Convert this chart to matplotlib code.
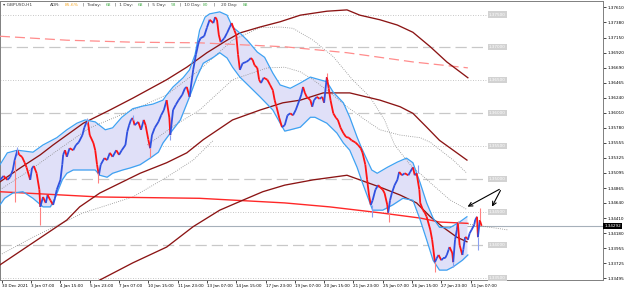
import matplotlib
matplotlib.use("Agg")
import matplotlib.pyplot as plt
from matplotlib.collections import LineCollection
import numpy as np

# GBPUSD H1, price path (bar index, close)
price_bars = [0, 4, 8, 11, 14, 16, 19, 21, 24, 27, 29, 33, 35, 37, 40, 43, 44, 47, 50, 52,
              55, 58, 60, 62, 66, 68, 69, 71, 73, 76, 80, 83, 86, 90, 92, 94, 96, 98, 102, 104,
              106, 108, 110, 114, 117, 120, 123, 127, 130, 133, 137, 139, 141, 143, 145, 147, 151, 154, 157, 159,
              162, 164, 166, 169, 173, 176, 179, 182, 185, 186, 189, 192, 195, 199, 202, 204, 207, 211, 214, 217,
              219, 223, 226, 229, 233, 235, 237, 239, 241, 245, 248, 251, 253, 256, 258, 260, 262, 265, 269, 272,
              274, 276, 278, 281, 283, 285, 288, 292, 295, 298, 300, 302, 305, 308, 311, 314, 317, 320, 323, 327,
              329, 331, 333, 335, 339, 341, 343, 346, 349, 352, 354, 356, 357, 359, 361, 364, 367, 369, 372, 375,
              378, 381, 384, 388, 391, 394, 396, 399, 401, 403, 405, 407, 410, 413, 415, 418, 420, 423, 424, 426,
              428, 431, 434, 436, 439, 442, 446, 448, 451, 453, 455, 458, 459, 462, 464, 466, 470, 472, 473, 475,
              477, 479, 482, 484, 486, 488, 490, 491, 494, 495, 497, 499, 500, 502, 505, 506, 508, 510, 511, 513,
              515, 518, 519, 521, 522, 524, 526]
price_close = [1.3499, 1.3505, 1.3499, 1.3503, 1.3514, 1.3529, 1.3544, 1.3537, 1.3534, 1.3525, 1.3518, 1.3499, 1.3517, 1.3520, 1.3509, 1.3484, 1.3458, 1.3473, 1.3464, 1.3476,
               1.3468, 1.3461, 1.3471, 1.3484, 1.3499, 1.3522, 1.3537, 1.3544, 1.3534, 1.3547, 1.3544, 1.3552, 1.3556, 1.3567, 1.3578, 1.3585, 1.3587, 1.3567, 1.3555, 1.3544,
               1.3522, 1.3506, 1.3522, 1.3532, 1.3529, 1.3540, 1.3534, 1.3544, 1.3537, 1.3544, 1.3552, 1.3572, 1.3582, 1.3590, 1.3593, 1.3582, 1.3587, 1.3575, 1.3590, 1.3582,
               1.3560, 1.3547, 1.3567, 1.3578, 1.3587, 1.3597, 1.3605, 1.3620, 1.3593, 1.3567, 1.3605, 1.3613, 1.3620, 1.3628, 1.3638, 1.3640, 1.3625, 1.3666, 1.3689, 1.3708,
               1.3714, 1.3717, 1.3730, 1.3742, 1.3737, 1.3746, 1.3742, 1.3719, 1.3708, 1.3714, 1.3722, 1.3731, 1.3737, 1.3726, 1.3719, 1.3689, 1.3666, 1.3676, 1.3678, 1.3681,
               1.3684, 1.3681, 1.3673, 1.3669, 1.3651, 1.3646, 1.3654, 1.3651, 1.3643, 1.3635, 1.3620, 1.3610, 1.3593, 1.3579, 1.3582, 1.3597, 1.3600, 1.3597, 1.3605, 1.3620,
               1.3628, 1.3640, 1.3631, 1.3625, 1.3620, 1.3610, 1.3620, 1.3625, 1.3622, 1.3625, 1.3616, 1.3643, 1.3655, 1.3638, 1.3620, 1.3600, 1.3593, 1.3590, 1.3578, 1.3570,
               1.3564, 1.3563, 1.3559, 1.3556, 1.3552, 1.3547, 1.3540, 1.3522, 1.3499, 1.3476, 1.3461, 1.3468, 1.3484, 1.3491, 1.3488, 1.3484, 1.3479, 1.3461, 1.3449, 1.3468,
               1.3479, 1.3491, 1.3499, 1.3511, 1.3506, 1.3509, 1.3506, 1.3511, 1.3518, 1.3506, 1.3509, 1.3484, 1.3464, 1.3453, 1.3449, 1.3443, 1.3423, 1.3408, 1.3397, 1.3374,
               1.3380, 1.3385, 1.3377, 1.3380, 1.3380, 1.3385, 1.3393, 1.3397, 1.3388, 1.3374, 1.3408, 1.3423, 1.3434, 1.3400, 1.3385, 1.3393, 1.3412, 1.3411, 1.3408, 1.3418,
               1.3423, 1.3431, 1.3438, 1.3443, 1.3412, 1.3438, 1.34292]

# long wicks (bar, low, high)
wick_bars = [16, 19, 44, 95, 107, 145, 164, 186, 357, 406, 425, 456, 475, 495, 500, 522, 524]
wick_low = [1.3465, 1.3537, 1.3431, 1.3585, 1.3494, 1.3590, 1.3534, 1.3560, 1.3655, 1.3443, 1.3435, 1.3509, 1.3359, 1.3367, 1.3434, 1.3393, 1.3438]
wick_high = [1.3529, 1.3549, 1.3458, 1.3593, 1.3510, 1.3597, 1.3547, 1.3567, 1.3661, 1.3461, 1.3449, 1.3522, 1.3374, 1.3374, 1.3436, 1.3412, 1.3456]

# Bollinger-style envelope
bb_up_bars = [0, 8, 19, 36, 47, 62, 73, 84, 93, 104, 115, 123, 133, 145, 156, 167, 178, 182, 189, 200,
              207, 213, 218, 224, 229, 240, 248, 254, 262, 270, 281, 289, 298, 306, 317, 328, 339, 349, 357, 364,
              375, 382, 390, 395, 401, 406, 412, 423, 434, 444, 451, 459, 466, 473, 480, 491, 502, 510]
bb_up = [1.3522, 1.3540, 1.3544, 1.3541, 1.3552, 1.3563, 1.3575, 1.3585, 1.3590, 1.3587, 1.3575, 1.3578, 1.3594, 1.3607, 1.3611, 1.3614, 1.3620, 1.3628, 1.3640, 1.3654,
         1.3666, 1.3689, 1.3726, 1.3746, 1.3751, 1.3754, 1.3749, 1.3731, 1.3722, 1.3711, 1.3693, 1.3685, 1.3661, 1.3643, 1.3638, 1.3646, 1.3655, 1.3651, 1.3648, 1.3632,
         1.3616, 1.3594, 1.3564, 1.3547, 1.3529, 1.3514, 1.3509, 1.3518, 1.3526, 1.3532, 1.3525, 1.3494, 1.3464, 1.3441, 1.3427, 1.3426, 1.3435, 1.3443]
bb_lo_bars = [0, 5, 14, 25, 36, 47, 55, 60, 68, 73, 80, 91, 104, 109, 117, 123, 134, 142, 153, 164,
              173, 178, 186, 197, 207, 215, 222, 233, 240, 248, 254, 262, 273, 284, 298, 306, 311, 317, 328, 339,
              344, 357, 368, 375, 382, 390, 396, 404, 407, 418, 429, 440, 451, 459, 466, 473, 480, 488, 495, 505, 511]
bb_lo = [1.3461, 1.3471, 1.3479, 1.3481, 1.3471, 1.3458, 1.3458, 1.3471, 1.3499, 1.3509, 1.3514, 1.3514, 1.3514, 1.3506, 1.3503, 1.3509, 1.3514, 1.3517, 1.3522, 1.3532,
         1.3541, 1.3555, 1.3570, 1.3590, 1.3625, 1.3655, 1.3676, 1.3685, 1.3692, 1.3684, 1.3670, 1.3655, 1.3640, 1.3625, 1.3605, 1.3585, 1.3573, 1.3575, 1.3579, 1.3594,
         1.3594, 1.3585, 1.3570, 1.3555, 1.3544, 1.3518, 1.3494, 1.3464, 1.3453, 1.3453, 1.3461, 1.3471, 1.3468, 1.3438, 1.3408, 1.3377, 1.3362, 1.3362, 1.3367, 1.3377, 1.3385]

# maroon moving averages
ma1_bars = [0, 22, 44, 58, 91, 120, 145, 182, 204, 226, 248, 262, 284, 306, 328, 357, 379, 393, 415, 434, 451, 470, 488, 511]
ma1 = [1.3496, 1.3517, 1.3537, 1.3552, 1.3585, 1.3605, 1.3623, 1.3651, 1.3670, 1.3692, 1.3711, 1.3722, 1.3731, 1.3739, 1.3749, 1.3755, 1.3757, 1.3749, 1.3742, 1.3734, 1.3723, 1.3701, 1.3678, 1.3654]
ma2_bars = [0, 44, 73, 87, 109, 131, 153, 182, 204, 222, 254, 284, 309, 328, 353, 382, 415, 437, 451, 466, 480, 495, 510]
ma2 = [1.3370, 1.3411, 1.3438, 1.3458, 1.3479, 1.3494, 1.3509, 1.3525, 1.3540, 1.3560, 1.3590, 1.3605, 1.3616, 1.3620, 1.3631, 1.3631, 1.3620, 1.3610, 1.3600, 1.3579, 1.3559, 1.3544, 1.3529]
ma3_bars = [98, 145, 182, 211, 240, 265, 287, 311, 342, 379, 385, 415, 437, 455, 470, 484, 499, 510]
ma3 = [1.3339, 1.3373, 1.3397, 1.3428, 1.3453, 1.3468, 1.3481, 1.3491, 1.3499, 1.3506, 1.3503, 1.3488, 1.3476, 1.3464, 1.3443, 1.3427, 1.3412, 1.3405]

# red moving averages
red_bars = [0, 109, 218, 311, 360, 415, 459, 480, 511]
red_ma = [1.3481, 1.3473, 1.3471, 1.3464, 1.3458, 1.3449, 1.3441, 1.3435, 1.3433]
red_proj_bars = [511, 555]
red_proj = [1.3432, 1.3423]
pink_bars = [0, 73, 145, 218, 311, 379, 451, 511]
pink_ma = [1.3717, 1.3711, 1.3708, 1.3707, 1.3701, 1.3692, 1.3678, 1.3669]

# grey dotted averages
dot1_bars = [0, 33, 66, 98, 145, 182, 218, 254, 284, 306, 320, 342, 364, 385, 404, 420, 431, 448, 473, 491, 510]
dot1 = [1.3484, 1.3514, 1.3547, 1.3578, 1.3605, 1.3628, 1.3666, 1.3711, 1.3730, 1.3731, 1.3729, 1.3711, 1.3686, 1.3651, 1.3625, 1.3590, 1.3552, 1.3522, 1.3491, 1.3469, 1.3454]
dot2_bars = [161, 191, 218, 254, 292, 311, 328, 342, 360, 379, 399, 415, 437, 459, 470, 495, 510]
dot2 = [1.3552, 1.3582, 1.3605, 1.3651, 1.3669, 1.3670, 1.3663, 1.3651, 1.3632, 1.3610, 1.3590, 1.3575, 1.3567, 1.3563, 1.3556, 1.3529, 1.3509]
dot3_bars = [0, 36, 91, 145, 182, 211, 233]
dot3 = [1.3385, 1.3412, 1.3449, 1.3473, 1.3503, 1.3529, 1.3559]

# horizontal levels
levels = [1.375, 1.370, 1.365, 1.360, 1.355, 1.350, 1.345, 1.340, 1.335]
level_labels = ["1.37500", "1.37000", "1.36500", "1.36000", "1.35500", "1.35000", "1.34500", "1.34000", "1.33500"]
current_price = 1.34292

price_ticks = [1.37610, 1.37380, 1.37150, 1.36920, 1.36690, 1.36465, 1.36240, 1.36010, 1.35780, 1.35555,
               1.35325, 1.35095, 1.34865, 1.34640, 1.34410, 1.34180, 1.33955, 1.33725, 1.33495]
time_ticks = [2, 34, 66, 98, 130, 162, 194, 226, 258, 290, 322, 354, 386, 418, 450, 482, 514]
time_labels = ["30 Dec 2021", "3 Jan 07:00", "4 Jan 15:00", "5 Jan 23:00", "7 Jan 07:00", "10 Jan 15:00",
               "11 Jan 23:00", "13 Jan 07:00", "14 Jan 15:00", "17 Jan 23:00", "19 Jan 07:00", "20 Jan 15:00",
               "21 Jan 23:00", "25 Jan 07:00", "26 Jan 15:00", "27 Jan 23:00", "31 Jan 07:00"]

fig = plt.figure(figsize=(6.25, 2.9), dpi=100)
ax = fig.add_axes([0, 10 / 290, 603 / 625, 279 / 290])
ax.set_xlim(0, 658.6)
ax.set_ylim(1.33470, 1.37705)

MAROON = "#8b1414"

# levels
for lv, lab in zip(levels, level_labels):
    if round(lv * 1000) % 10 == 0:
        ax.plot([0, 532], [lv, lv], color="#c8c8c8", lw=0.9, dashes=(9, 4), zorder=1)
    else:
        ax.plot([0, 532], [lv, lv], color="#b4b4b4", lw=0.6, dashes=(1, 2), zorder=1)
    ax.text(543, lv, lab, fontsize=3.0, color="white", ha="center", va="center",
            bbox=dict(boxstyle="square,pad=0.25", fc="#d2d2d2", ec="none"), zorder=3)

ax.axhline(current_price, color="#a6b0ba", lw=0.8, zorder=1)

# envelope
bx = np.arange(0, 511)
ax.fill_between(bx, np.interp(bx, bb_lo_bars, bb_lo), np.interp(bx, bb_up_bars, bb_up),
                color="#e0e0f8", lw=0, zorder=2)

# dotted averages
for xs, ys in [(dot1_bars, dot1), (dot2_bars, dot2), (dot3_bars, dot3), (red_proj_bars, red_proj)]:
    ax.plot(xs, ys, color="#8c8c8c", lw=0.6, dashes=(1, 1.6), zorder=3)

ax.plot(pink_bars, pink_ma, color="#ff8c8c", lw=0.9, dashes=(8, 4), zorder=3)
ax.plot(red_bars, red_ma, color="#ff2828", lw=1.0, zorder=3)
for xs, ys in [(ma1_bars, ma1), (ma2_bars, ma2), (ma3_bars, ma3)]:
    ax.plot(xs, ys, color=MAROON, lw=0.95, zorder=4)

ax.plot(bb_up_bars, bb_up, color="#3ea2f2", lw=0.9, zorder=5)
ax.plot(bb_lo_bars, bb_lo, color="#3ea2f2", lw=0.9, zorder=5)

# price
segs, cols = [], []
for i in range(1, len(price_bars)):
    segs.append([(price_bars[i - 1], price_close[i - 1]), (price_bars[i], price_close[i])])
    cols.append("#3050e0" if price_close[i] >= price_close[i - 1] else "#ff1414")
ax.add_collection(LineCollection(segs, colors=cols, linewidths=1.3, zorder=6))
wick_cols = ["#ff8080" if i % 2 == 0 else "#8aa0f0" for i in range(len(wick_bars))]
ax.vlines(wick_bars, wick_low, wick_high, colors=wick_cols, lw=0.8, zorder=6)

# arrows
ax.annotate("", xy=(508, 1.34563), xytext=(548, 1.34866),
            arrowprops=dict(arrowstyle="->", color="black", lw=0.8, mutation_scale=7), zorder=7)
ax.annotate("", xy=(536, 1.34547), xytext=(548, 1.34866),
            arrowprops=dict(arrowstyle="->", color="black", lw=0.8, mutation_scale=7), zorder=7)

# axes
ax.yaxis.tick_right()
ax.set_yticks(price_ticks)
ax.set_yticklabels([f"{v:.5f}" for v in price_ticks])
ax.set_xticks(time_ticks)
ax.set_xticklabels(time_labels)
ax.tick_params(axis="both", labelsize=3.0, length=2, width=0.5, pad=1, colors="black")
for lbl in ax.get_xticklabels():
    lbl.set_ha("left")
for s in ax.spines.values():
    s.set_color("#808080")
    s.set_linewidth(0.7)

ax.text(1.002, current_price, f"{current_price:.5f}", transform=ax.get_yaxis_transform(),
        fontsize=3.0, color="white", va="center", ha="left",
        bbox=dict(boxstyle="square,pad=0.3", fc="black", ec="none"), zorder=8, clip_on=False)

# header
hdr = [(3, "\u25be GBPUSD,H1", "#404040"), (50, "ADR:", "#404040"), (65, "85.6%", "#f5a623"),
       (83, "|  Today:", "#404040"), (106, "68", "#4caf50"), (115, "|  1 Day:", "#404040"),
       (138, "68", "#4caf50"), (148, "|  5 Day:", "#404040"), (171, "93", "#4caf50"),
       (180, "|  10 Day:", "#404040"), (203, "80", "#4caf50"), (214, "|    20 Day:", "#404040"),
       (243, "88", "#4caf50")]
for px, txt, c in hdr:
    fig.text(px / 625, 1 - 5 / 290, txt, fontsize=3.2, color=c, va="center", ha="left")

fig.savefig("out.png", dpi=100)
